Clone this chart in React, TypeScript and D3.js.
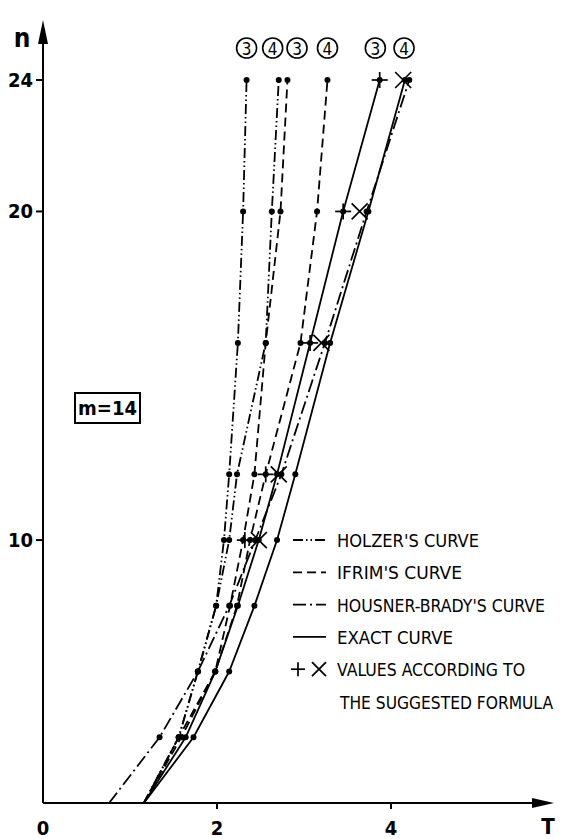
import React from "react";
import * as d3 from "d3";

// story levels n
const nLevels = [2, 4, 6, 8, 10, 12, 16, 20, 24];
// period T for each curve at the levels above
const holzer3 = [1.16, 1.56, 1.78, 1.99, 2.08, 2.14, 2.24, 2.3, 2.34];
const holzer4 = [1.16, 1.56, 1.78, 1.99, 2.14, 2.23, 2.56, 2.63, 2.71];
const ifrim3 = [1.16, 1.56, 1.98, 2.15, 2.3, 2.43, 2.56, 2.73, 2.81];
const ifrim4 = [1.16, 1.59, 1.98, 2.23, 2.38, 2.56, 2.96, 3.15, 3.27];
const exact3 = [1.16, 1.64, 1.98, 2.24, 2.48, 2.69, 3.07, 3.45, 3.87];
const exact4 = [1.16, 1.73, 2.14, 2.43, 2.69, 2.9, 3.3, 3.74, 4.16];
const housnerBrady = [0.76, 1.34, 1.78, 2.14, 2.44, 2.74, 3.24, 3.72, 4.21];

// values according to the suggested formula
const formulaLevels = [10, 12, 16, 20, 24];
const formula3 = [2.32, 2.56, 3.07, 3.45, 3.87];
const formula4 = [2.48, 2.71, 3.2, 3.64, 4.14];

const xTicks = [0, 2, 4];
const yTicks = [10, 20, 24];

const topLabels = ["3", "4", "3", "4", "3", "4"];
const topLabelT = [2.34, 2.64, 2.92, 3.27, 3.82, 4.15];

const legendItems = [
  "HOLZER'S CURVE",
  "IFRIM'S CURVE",
  "HOUSNER-BRADY'S CURVE",
  "EXACT CURVE",
];
const legendWidths = [142, 125, 208, 116];

const W = 566;
const H = 839;
const FONT = "'Liberation Sans Narrow', 'DejaVu Sans Condensed', 'Liberation Sans', sans-serif";

const styles: Record<string, string | undefined> = {
  holzer: "10 3 1.5 3 1.5 3",
  ifrim: "9 5",
  hb: "13 4 2 4",
  exact: undefined,
};

export default function App() {
  const x = d3.scaleLinear().domain([0, 4]).range([43, 391]);
  const y = d3.scaleLinear().domain([2, 24]).range([803, 80]);

  const line = d3
    .line<[number, number]>()
    .x((d) => x(d[0]))
    .y((d) => y(d[1]));

  const curves: { vals: number[]; style: string }[] = [
    { vals: holzer3, style: "holzer" },
    { vals: holzer4, style: "holzer" },
    { vals: ifrim3, style: "ifrim" },
    { vals: ifrim4, style: "ifrim" },
    { vals: exact3, style: "exact" },
    { vals: exact4, style: "exact" },
    { vals: housnerBrady, style: "hb" },
  ];

  const x0 = x(0);
  const yBase = y(2);

  const plus = (cx: number, cy: number, s: number, k: string) => (
    <g key={k} stroke="#000" strokeWidth={1.7}>
      <line x1={cx - s} y1={cy} x2={cx + s} y2={cy} />
      <line x1={cx} y1={cy - s} x2={cx} y2={cy + s} />
    </g>
  );
  const cross = (cx: number, cy: number, s: number, k: string) => (
    <g key={k} stroke="#000" strokeWidth={1.7}>
      <line x1={cx - s} y1={cy - s} x2={cx + s} y2={cy + s} />
      <line x1={cx - s} y1={cy + s} x2={cx + s} y2={cy - s} />
    </g>
  );

  const legendX1 = 293;
  const legendX2 = 326;
  const legendTextX = 337;
  const legendY0 = 540;
  const legendStep = 32.3;

  return (
    <svg
      width={W}
      height={H}
      style={{ position: "absolute", left: 0, top: 0, background: "#fff" }}
      fontFamily={FONT}
    >
      <rect x={0} y={0} width={W} height={H} fill="#fff" />

      {/* axes */}
      <line x1={x0} y1={yBase} x2={x0} y2={40} stroke="#000" strokeWidth={2} />
      <path d={`M${x0 - 5},44 L${x0},20 L${x0 + 5},44 Z`} fill="#000" />
      <line x1={x0} y1={yBase} x2={535} y2={yBase} stroke="#000" strokeWidth={2} />
      <path d={`M532,${yBase - 5} L554,${yBase} L532,${yBase + 5} Z`} fill="#000" />
      <text x={22} y={47} fontSize={26} fontWeight="bold" textAnchor="middle">n</text>
      <text x={548} y={834} fontSize={22} fontWeight="bold" textAnchor="middle">T</text>

      {yTicks.map((t) => (
        <g key={`yt${t}`}>
          <line x1={x0 - 7} y1={y(t)} x2={x0} y2={y(t)} stroke="#000" strokeWidth={2} />
          <text x={x0 - 10} y={y(t) + 7} fontSize={20} fontWeight="bold" textAnchor="end">
            {t}
          </text>
        </g>
      ))}
      {xTicks.map((t) => (
        <g key={`xt${t}`}>
          {t > 0 && (
            <line x1={x(t)} y1={yBase} x2={x(t)} y2={yBase + 6} stroke="#000" strokeWidth={2} />
          )}
          <text x={x(t)} y={yBase + 32} fontSize={20} fontWeight="bold" textAnchor="middle">
            {t}
          </text>
        </g>
      ))}

      {/* curves */}
      {curves.map((c, i) => (
        <g key={`c${i}`}>
          <path
            d={line(c.vals.map((v, j) => [v, nLevels[j]] as [number, number])) || ""}
            fill="none"
            stroke="#000"
            strokeWidth={1.8}
            strokeDasharray={styles[c.style]}
          />
          {c.vals.map((v, j) =>
            nLevels[j] >= 4 ? (
              <circle key={j} cx={x(v)} cy={y(nLevels[j])} r={3} fill="#000" />
            ) : null
          )}
        </g>
      ))}

      {/* formula values */}
      {formula3.map((v, j) => plus(x(v), y(formulaLevels[j]), 8, `p${j}`))}
      {formula4.map((v, j) => cross(x(v), y(formulaLevels[j]), 8, `x${j}`))}

      {/* top circled labels */}
      {topLabels.map((l, i) => (
        <g key={`tl${i}`}>
          <circle cx={x(topLabelT[i])} cy={48} r={10} fill="none" stroke="#000" strokeWidth={1.6} />
          <text x={x(topLabelT[i])} y={54.5} fontSize={17} textAnchor="middle">
            {l}
          </text>
        </g>
      ))}

      {/* m=14 box */}
      <rect x={75} y={393} width={65} height={30} fill="none" stroke="#000" strokeWidth={2} />
      <text x={107.5} y={415} fontSize={20} fontWeight="bold" textAnchor="middle">m=14</text>

      {/* legend */}
      {legendItems.map((t, i) => {
        const ly = legendY0 + i * legendStep;
        const key = ["holzer", "ifrim", "hb", "exact"][i];
        return (
          <g key={`lg${i}`}>
            <line
              x1={legendX1}
              y1={ly}
              x2={legendX2}
              y2={ly}
              stroke="#000"
              strokeWidth={1.8}
              strokeDasharray={styles[key]}
            />
            <text
              x={legendTextX}
              y={ly + 7}
              fontSize={18}
              textLength={legendWidths[i]}
              lengthAdjust="spacingAndGlyphs"
            >
              {t}
            </text>
          </g>
        );
      })}
      {plus(298, legendY0 + 4 * legendStep, 7, "lp")}
      {cross(319, legendY0 + 4 * legendStep, 7, "lx")}
      <text
        x={legendTextX}
        y={legendY0 + 4 * legendStep + 7}
        fontSize={18}
        textLength={188}
        lengthAdjust="spacingAndGlyphs"
      >
        VALUES ACCORDING TO
      </text>
      <text
        x={340}
        y={legendY0 + 5 * legendStep + 7}
        fontSize={18}
        textLength={213}
        lengthAdjust="spacingAndGlyphs"
      >
        THE SUGGESTED FORMULA
      </text>
    </svg>
  );
}
